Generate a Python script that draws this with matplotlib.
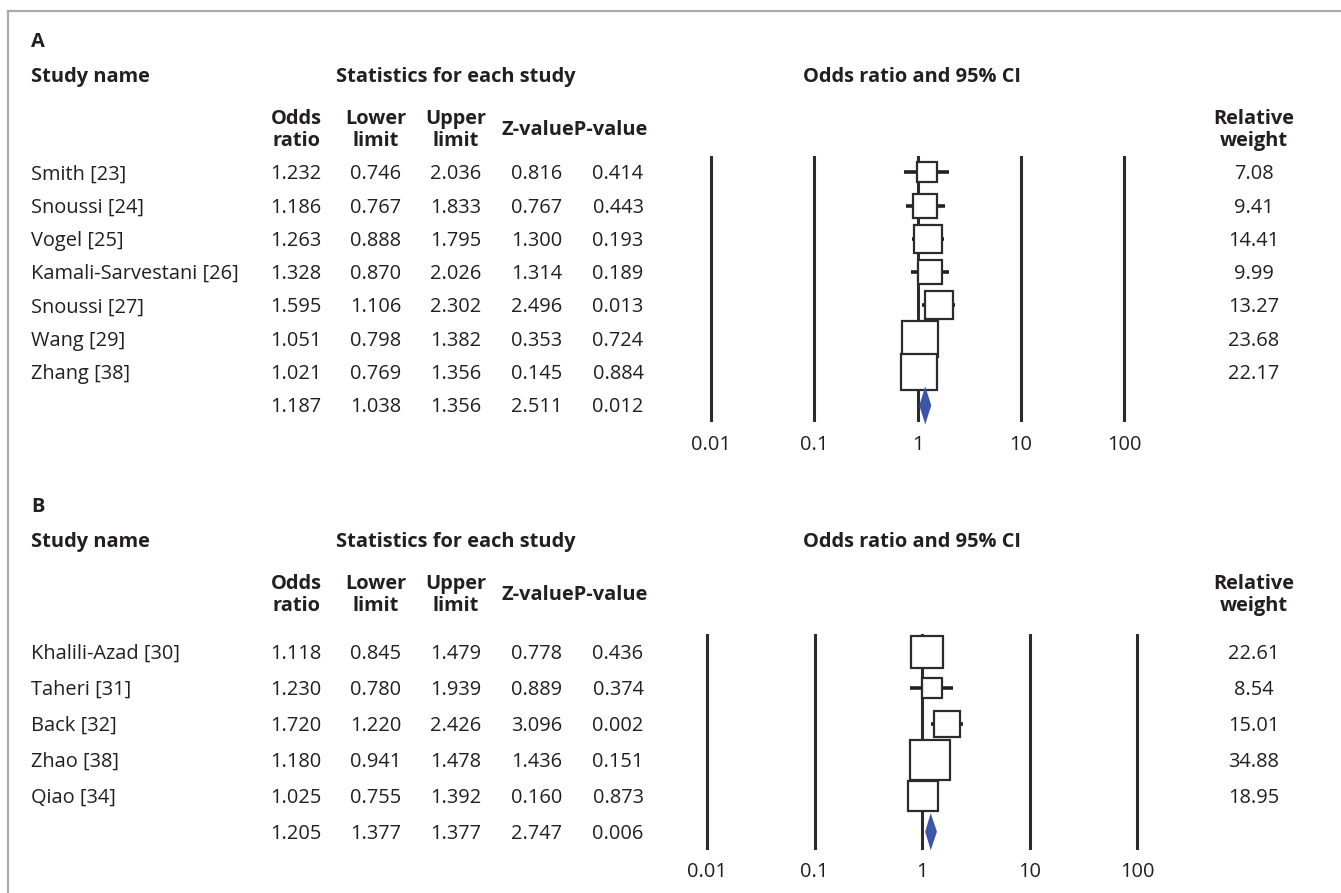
import matplotlib
matplotlib.use("Agg")
import matplotlib.pyplot as plt
from matplotlib.lines import Line2D
from matplotlib.patches import Polygon
from matplotlib.ticker import NullLocator
import numpy as np

plt.rcParams.update({
    "font.family": ["Open Sans", "DejaVu Sans"],
    "font.size": 14.4,
    "text.color": "#231f20",
})

# panel A
studies_a = ["Smith [23]", "Snoussi [24]", "Vogel [25]", "Kamali-Sarvestani [26]",
             "Snoussi [27]", "Wang [29]", "Zhang [38]"]
or_a = [1.232, 1.186, 1.263, 1.328, 1.595, 1.051, 1.021]
lo_a = [0.746, 0.767, 0.888, 0.870, 1.106, 0.798, 0.769]
hi_a = [2.036, 1.833, 1.795, 2.026, 2.302, 1.382, 1.356]
z_a = [0.816, 0.767, 1.300, 1.314, 2.496, 0.353, 0.145]
p_a = [0.414, 0.443, 0.193, 0.189, 0.013, 0.724, 0.884]
wt_a = [7.08, 9.41, 14.41, 9.99, 13.27, 23.68, 22.17]
pooled_a = [1.187, 1.038, 1.356, 2.511, 0.012]   # OR, lower, upper, Z, P
diamond_a = [1.038, 1.187, 1.356]

# panel B
studies_b = ["Khalili-Azad [30]", "Taheri [31]", "Back [32]", "Zhao [38]", "Qiao [34]"]
or_b = [1.118, 1.230, 1.720, 1.180, 1.025]
lo_b = [0.845, 0.780, 1.220, 0.941, 0.755]
hi_b = [1.479, 1.939, 2.426, 1.478, 1.392]
z_b = [0.778, 0.889, 3.096, 1.436, 0.160]
p_b = [0.436, 0.374, 0.002, 0.151, 0.873]
wt_b = [22.61, 8.54, 15.01, 34.88, 18.95]
pooled_b = [1.205, 1.377, 1.377, 2.747, 0.006]
diamond_b = [1.07, 1.205, 1.377]   # extent of the diamond as drawn

ticks = [0.01, 0.1, 1, 10, 100]
tick_labels = ["0.01", "0.1", "1", "10", "100"]

W, H = 1341, 893
fig = plt.figure(figsize=(W / 100, H / 100), dpi=100)

def fx(x):
    return x / W

def fy(y):
    return 1 - y / H

def txt(x, y, s, ha="center", bold=False):
    # y is the visual middle of the capitals, in pixels from the top
    fig.text(fx(x), fy(y + 7), s, ha=ha, va="baseline",
             fontweight="bold" if bold else "normal")

# frame (top and left only)
fig.add_artist(Line2D([fx(8), 1], [fy(11), fy(11)], color="#ababab", lw=1.6))
fig.add_artist(Line2D([fx(8), fx(8)], [fy(11), 0], color="#ababab", lw=1.6))

cols = [296, 376, 456, 537, 618]
x_name = 31
x_wt = 1254


def panel(letter, y0, row0, step, studies, ors, los, his, zs, ps, wts, pooled,
          diamond, ax_left, decade, box_k, diamond_h):
    txt(x_name, y0, letter, ha="left", bold=True)
    txt(x_name, y0 + 35, "Study name", ha="left", bold=True)
    txt(456, y0 + 35, "Statistics for each study", bold=True)
    txt(912, y0 + 35, "Odds ratio and 95% CI", bold=True)
    for c, (l1, l2) in zip(cols[:3], [("Odds", "ratio"), ("Lower", "limit"), ("Upper", "limit")]):
        txt(c, y0 + 77, l1, bold=True)
        txt(c, y0 + 99, l2, bold=True)
    txt(575, y0 + 88, "Z-valueP-value", bold=True)
    txt(x_wt, y0 + 77, "Relative", bold=True)
    txt(x_wt, y0 + 99, "weight", bold=True)

    n = len(studies)
    for i in range(n):
        y = row0 + i * step
        txt(x_name, y, studies[i], ha="left")
        for c, v in zip(cols, [ors[i], los[i], his[i], zs[i], ps[i]]):
            txt(c, y, f"{v:.3f}")
        txt(x_wt, y, f"{wts[i]:.2f}")
    y = row0 + n * step
    for c, v in zip(cols, pooled):
        txt(c, y, f"{v:.3f}")

    # forest plot
    top = row0 - step / 2
    bottom = row0 + (n + 0.5) * step
    ax = fig.add_axes([fx(ax_left), fy(bottom), 4.4 * decade / W, (bottom - top) / H])
    for t in ticks:
        ax.axvline(t, color="#2b2b2b", lw=2.2, zorder=1)
    rows = np.arange(n)
    ax.hlines(rows, los, his, color="#231f20", lw=2.6, zorder=2)
    for r, o, w in zip(rows, ors, wts):
        ax.plot(o, r, marker="s", ms=box_k * np.sqrt(w) * 0.72, mfc="white",
                mec="#2b2b2b", mew=1.6, zorder=3)
    lo, mid, hi = diamond
    ax.add_patch(Polygon([[lo, n], [mid, n - diamond_h / 2], [hi, n], [mid, n + diamond_h / 2]],
                         closed=True, fc="#3b55a8", ec="none", zorder=4, clip_on=False))
    ax.set_xscale("log")
    ax.set_xlim(10 ** -2.2, 10 ** 2.2)
    ax.set_ylim(n + 0.5, -0.5)
    ax.set_xticks(ticks, tick_labels)
    ax.xaxis.set_minor_locator(NullLocator())
    ax.tick_params(axis="x", length=0, pad=9, labelsize=14.4, labelcolor="#231f20")
    ax.set_yticks([])
    for s in ax.spines.values():
        s.set_visible(False)
    ax.patch.set_alpha(0)


panel("A", 40, 172.3, 33.3, studies_a, or_a, lo_a, hi_a, z_a, p_a, wt_a, pooled_a,
      diamond_a, 711 - 0.2 * 103.3, 103.3, 7.5, 1.14)
panel("B", 505, 651.7, 36.0, studies_b, or_b, lo_b, hi_b, z_b, p_b, wt_b, pooled_b,
      diamond_b, 707 - 0.2 * 107.5, 107.5, 6.8, 1.03)

fig.savefig("out.png", dpi=100)
